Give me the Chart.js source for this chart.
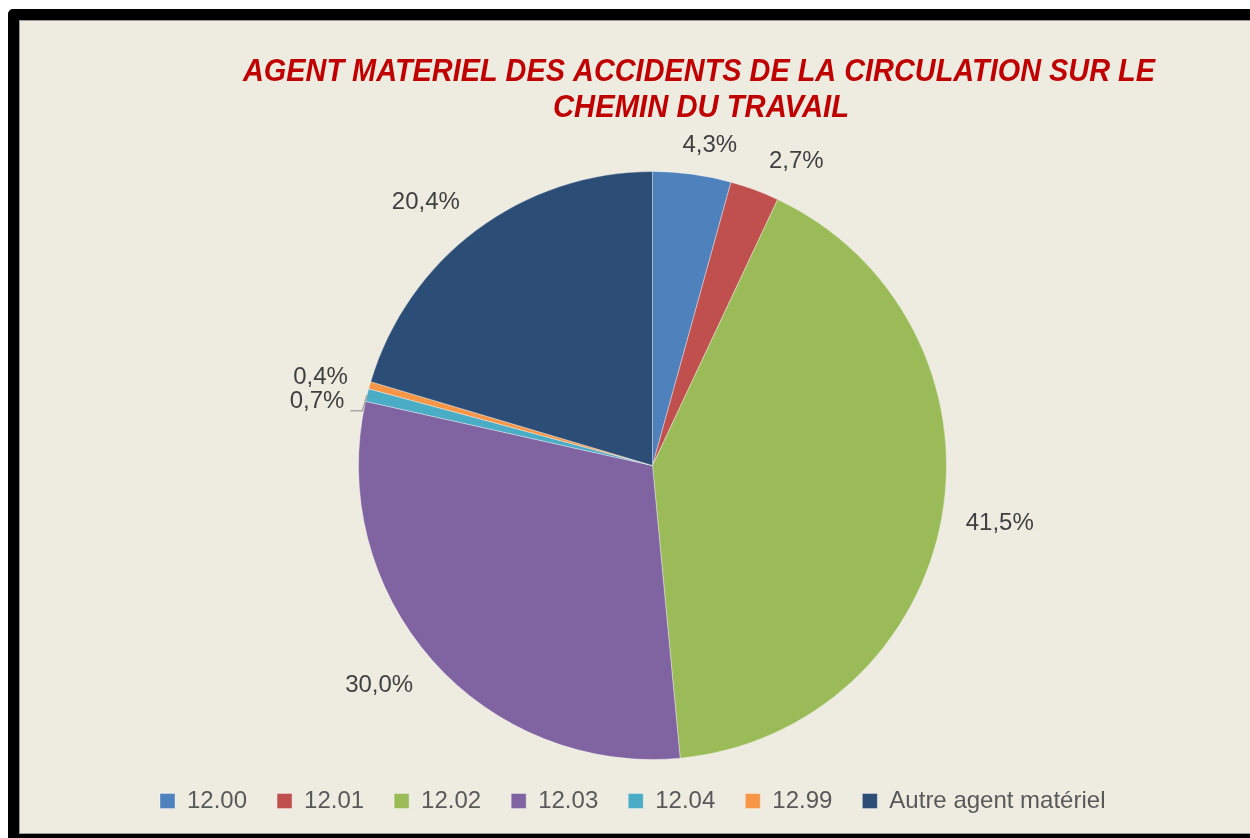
<!DOCTYPE html>
<html>
<head>
<meta charset="utf-8">
<script src="https://cdn.jsdelivr.net/npm/chart.js@4.4.1/dist/chart.umd.min.js"></script>
<style>
  html, body { margin: 0; padding: 0; width: 1250px; height: 838px; overflow: hidden; background: #ffffff; }
  #frame {
    position: absolute; left: 8px; top: 9px;
    width: 1300px; height: 814px;
    border: 11px solid #000000; border-top-left-radius: 5px;
    background: #EEECE1;
    box-shadow: inset 0 0 0 1px #9a9a9a;
  }
  #c { position: absolute; left: 0; top: 0; z-index: 2; }
</style>
</head>
<body>
<div id="frame"></div>
<canvas id="c" width="1250" height="838"></canvas>
<script>
// ---- data ----
const titleLines = ['AGENT MATERIEL DES ACCIDENTS DE LA CIRCULATION SUR LE', 'CHEMIN DU TRAVAIL'];
const categories = ['12.00', '12.01', '12.02', '12.03', '12.04', '12.99', 'Autre agent matériel'];
const shares = [4.3, 2.7, 41.5, 30.0, 0.7, 0.4, 20.4];

// ---- styles ----
const sliceColors = ['#4F81BD', '#C0504D', '#9BBB59', '#8064A2', '#4BACC6', '#F79646', '#2C4D75'];
// label placement relative to each slice (angle nudge in degrees, extra distance beyond rim)
const labelPlacement = [
  { nudge: 2.4, extra: 31.5, leader: false },
  { nudge: 5.0, extra: 42, leader: false },
  { nudge: -0.5, extra: 58, leader: false },
  { nudge: 2.6, extra: 56.7, leader: false },
  { nudge: -3.0, extra: 47.6, leader: true },
  { nudge: -0.9, extra: 49.6, leader: false },
  { nudge: -4.0, extra: 53.5, leader: false }
];

const titlePlugin = {
  id: 'customTitle',
  afterDraw(chart) {
    const ctx = chart.ctx;
    ctx.save();
    ctx.fillStyle = '#C00000';
    ctx.font = 'italic bold 32px "Liberation Sans", Arial, sans-serif';
    ctx.textAlign = 'center';
    ctx.textBaseline = 'alphabetic';
    const w1 = ctx.measureText(titleLines[0]).width;
    const w2 = ctx.measureText(titleLines[1]).width;
    ctx.fillText(titleLines[0], 699, 81, Math.min(w1, 912));
    ctx.fillText(titleLines[1], 701, 117, Math.min(w2, 296));
    ctx.restore();
  }
};

const labelPlugin = {
  id: 'sliceLabels',
  afterDatasetsDraw(chart) {
    const ctx = chart.ctx;
    const meta = chart.getDatasetMeta(0);
    const values = chart.data.datasets[0].data;
    ctx.save();
    ctx.font = '24px "Liberation Sans", Arial, sans-serif';
    ctx.fillStyle = '#404040';
    ctx.textAlign = 'center';
    ctx.textBaseline = 'middle';
    meta.data.forEach((arc, i) => {
      const p = arc.getProps(['x', 'y', 'startAngle', 'endAngle', 'outerRadius'], true);
      const mid = (p.startAngle + p.endAngle) / 2;
      const pl = labelPlacement[i];
      const a = mid + pl.nudge * Math.PI / 180;
      const d = p.outerRadius + pl.extra;
      const lx = p.x + Math.cos(a) * d;
      const ly = p.y + Math.sin(a) * d;
      const txt = values[i].toFixed(1).replace('.', ',') + '%';
      ctx.fillText(txt, lx, ly);
      if (pl.leader) {
        const tw = ctx.measureText(txt).width;
        const sx = lx + tw / 2 + 6;
        const sy = ly + 9.5;
        const ex = p.x + Math.cos(mid) * p.outerRadius;
        const ey = p.y + Math.sin(mid) * p.outerRadius;
        ctx.save();
        ctx.strokeStyle = '#A6A6A6';
        ctx.lineWidth = 1.5;
        ctx.beginPath();
        ctx.moveTo(sx, sy);
        ctx.lineTo(sx + 12, sy);
        ctx.lineTo(ex, ey);
        ctx.stroke();
        ctx.restore();
      }
    });
    ctx.restore();
  }
};

new Chart(document.getElementById('c'), {
  type: 'pie',
  data: {
    labels: categories,
    datasets: [{
      data: shares,
      backgroundColor: sliceColors,
      borderColor: 'rgba(255,255,255,0.35)',
      borderWidth: 1,
      hoverOffset: 0,
      radius: 294
    }]
  },
  options: {
    responsive: false,
    animation: false,
    events: [],
    layout: { padding: { top: 172, bottom: 15, left: 130, right: 75 } },
    plugins: {
      title: { display: false },
      tooltip: { enabled: false },
      legend: {
        display: true,
        position: 'bottom',
        align: 'start',
        labels: {
          boxWidth: 15,
          boxHeight: 15,
          padding: 30,
          color: '#595959',
          font: { family: '"Liberation Sans", Arial, sans-serif', size: 24 }
        }
      }
    }
  },
  plugins: [titlePlugin, labelPlugin]
});
</script>
</body>
</html>
